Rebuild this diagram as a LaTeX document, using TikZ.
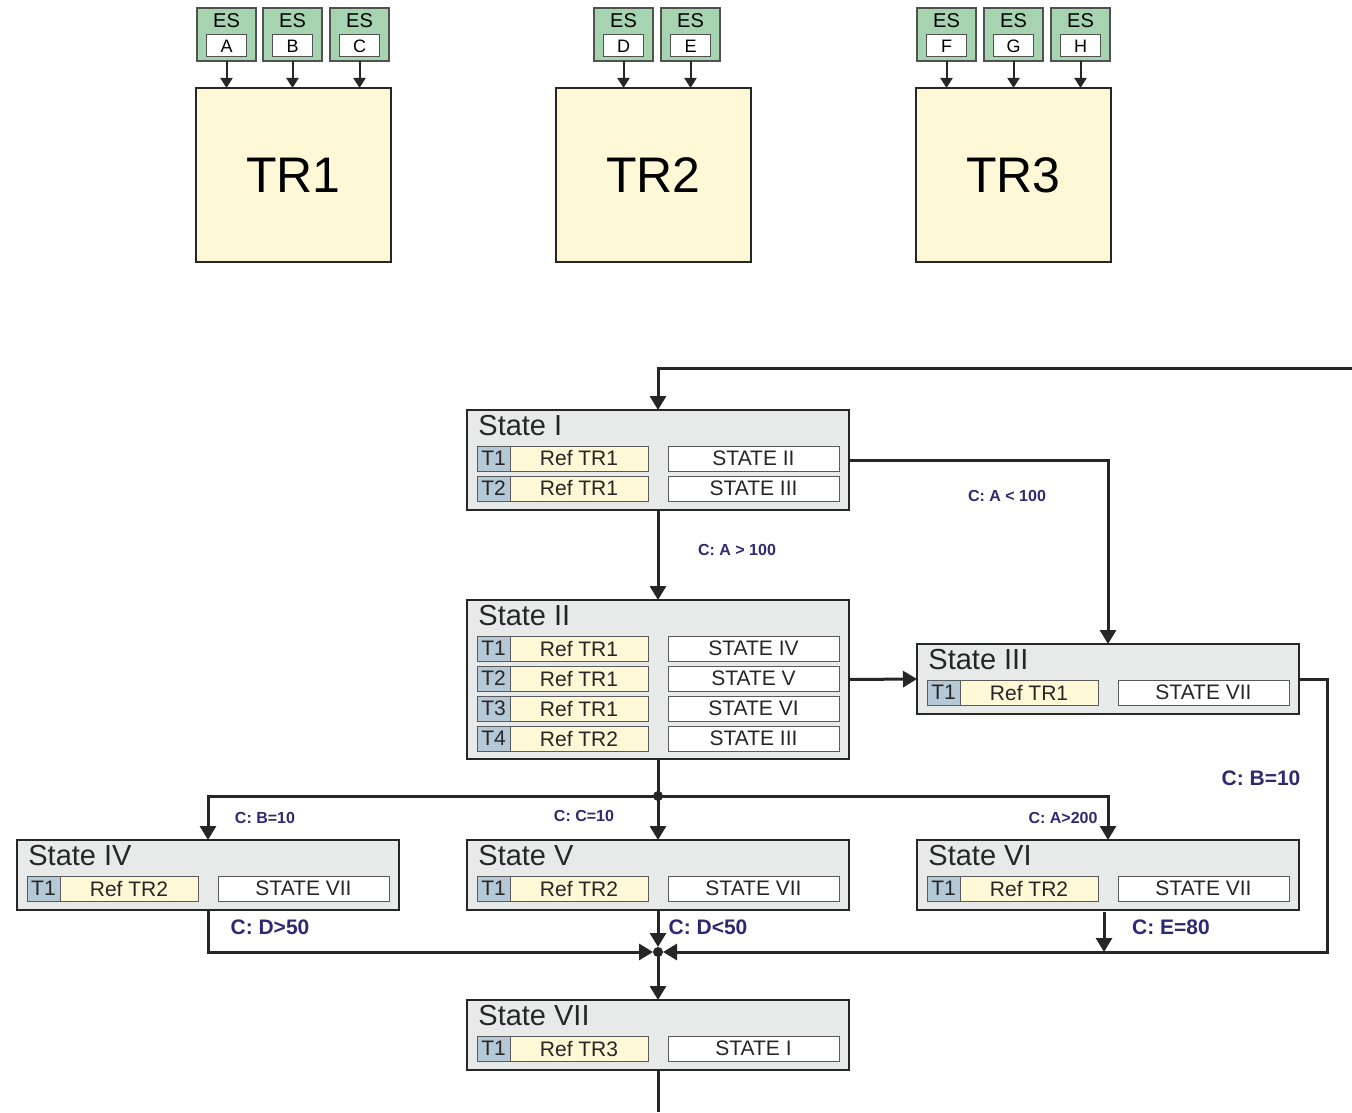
\documentclass[tikz,border=0pt]{standalone}
\usepackage{fontspec}
\setmainfont{Liberation Sans}
\usetikzlibrary{positioning,arrows.meta}
\definecolor{linecol}{HTML}{262626}
\definecolor{trfill}{HTML}{FEF8D6}
\definecolor{esfill}{HTML}{A7D4B0}
\definecolor{tfill}{HTML}{B4C8D6}
\definecolor{stategray}{HTML}{E8EAEA}
\definecolor{cellline}{HTML}{5A5A5A}
\definecolor{condcol}{HTML}{2E2A72}

\begin{document}
\begin{tikzpicture}[x=0.5pt, y=-0.5pt,
  line/.style={draw=linecol, line width=1.5pt},
  flow/.style={line, -{Triangle[width=8pt,length=7pt]}},
  esflow/.style={draw=linecol, line width=1pt, -{Triangle[width=6pt,length=5pt]}},
  trbox/.style={draw=linecol, line width=1.2pt, fill=trfill, anchor=north west,
    minimum width=97.5pt, minimum height=87pt, inner sep=0, outer sep=0,
    font=\fontsize{25}{25}\selectfont},
  esbox/.style={draw=linecol!80, line width=0.6pt, fill=esfill, anchor=north west,
    minimum width=29.5pt, minimum height=26.5pt, inner sep=0, outer sep=0},
  eshead/.style={inner sep=0, font=\fontsize{10}{10}\selectfont},
  esletter/.style={draw=linecol!80, line width=0.5pt, fill=white, minimum width=20pt,
    minimum height=11pt, inner sep=0, outer sep=0, font=\fontsize{9}{9}\selectfont},
  statebox/.style={draw=linecol, line width=1.4pt, fill=stategray, anchor=north west,
    minimum width=191pt, inner sep=0, outer sep=0},
  statetitle/.style={anchor=north west, inner sep=0, text=black!85,
    font=\fontsize{14.5}{14.5}\selectfont},
  cell/.style={draw=cellline, line width=0.5pt, minimum height=12.5pt, inner sep=0,
    outer sep=0, text=black!85, font=\fontsize{10.5}{10.5}\selectfont},
  tcell/.style={cell, fill=tfill, minimum width=16.5pt, anchor=north west},
  refcell/.style={cell, fill=trfill, minimum width=69pt},
  nextcell/.style={cell, fill=white, minimum width=85.5pt},
  cond/.style={text=condcol, inner sep=0, font=\bfseries\fontsize{8}{8}\selectfont},
  bigcond/.style={cond, font=\bfseries\fontsize{10.5}{10.5}\selectfont},
  dot/.style={circle, fill=linecol, inner sep=0, minimum size=5pt},
  tojoin/.style={flow, shorten >=2.5pt}
]
\useasboundingbox (0,0) rectangle (1352,1112);

  % Define nodes
  \node[trbox] (tr1) at (196,88) {TR1};
  \node[trbox] (tr2) at (556,88) {TR2};
  \node[trbox] (tr3) at (916,88) {TR3};

  \foreach \l/\x/\tr in {A/197/1,B/263/1,C/330/1,D/594/2,E/661/2,F/917/3,G/984/3,H/1051/3} {
    \node[esbox] (es\l) at (\x,8) {};
    \node[eshead, below=2.5pt of es\l.north] (es\l-head) {ES};
    \node[esletter, above=2pt of es\l.south] (es\l-in) {\l};
    \draw[esflow] (es\l.south) -- (es\l.south |- tr\tr.north);
  }

  \foreach \st/\x/\y/\h/\nm in {1/467/410/50pt/I, 2/467/600/79.5pt/II, 3/917/644/35pt/III,
      4/17/840/35pt/IV, 5/467/840/35pt/V, 6/917/840/35pt/VI, 7/467/1000/35pt/VII} {
    \node[statebox, minimum height=\h] (s\st) at (\x,\y) {};
    \node[statetitle] (s\st-title) at ([shift={(5.5pt,-2.5pt)}]s\st.north west) {State \nm};
  }

  \foreach \st/\i/\tn/\rf/\nx in {1/1/T1/TR1/II, 1/2/T2/TR1/III,
      2/1/T1/TR1/IV, 2/2/T2/TR1/V, 2/3/T3/TR1/VI, 2/4/T4/TR2/III,
      3/1/T1/TR1/VII, 4/1/T1/TR2/VII, 5/1/T1/TR2/VII, 6/1/T1/TR2/VII, 7/1/T1/TR3/I} {
    \node[tcell] (s\st-t\i) at ([xshift=5pt, yshift={-18pt-15pt*(\i-1)}]s\st.north west) {\tn};
    \node[refcell, right=0pt of s\st-t\i] (s\st-r\i) {Ref \rf};
    \node[nextcell, right=10pt of s\st-r\i] (s\st-n\i) {STATE \nx};
  }

  \coordinate (loopin) at (1352,368);
  \coordinate (loopout) at (658,1112);
  \coordinate (j1) at (658,796);
  \coordinate (j2) at (658,952);
  \coordinate (c3) at (1327,952);
  \coordinate (s6exit) at (1104,912);

  % Conditions
  \node[cond] (cA1) at (1007,496) {C: A < 100};
  \node[cond] (cA2) at (737,550) {C: A > 100};
  \node[cond] (cB1) at (265,818) {C: B=10};
  \node[cond] (cC1) at (584,816) {C: C=10};
  \node[cond] (cA3) at (1063,818) {C: A>200};
  \node[bigcond] (cB2) at (1261,778) {C: B=10};
  \node[bigcond] (cD1) at (270,927) {C: D>50};
  \node[bigcond] (cD2) at (708,927) {C: D<50};
  \node[bigcond] (cE1) at (1171,927) {C: E=80};

  % Connect the nodes
  \draw[flow] (loopin) -| (s1.north);
  \draw[flow] (s1.south) -- (s2.north);
  \draw[flow] (s1.east) -| (s3.north);
  \draw[flow] (s2.east) -- (s3.west);
  \draw[line] (s2.south) -- (j1);
  \draw[flow] (j1) -- (s5.north);
  \draw[flow] (j1) -| (s4.north);
  \draw[flow] (j1) -| (s6.north);
  \draw[tojoin] (s3.east) -| (c3) -- (j2);
  \draw[tojoin] (s4.south) |- (j2);
  \draw[tojoin] (s5.south) -- (j2);
  \draw[flow] (s6exit) -- (s6exit |- j2);
  \draw[flow] (j2) -- (s7.north);
  \draw[line] (s7.south) -- (loopout);
  \node[dot] (j1dot) at (j1) {};
  \node[dot] (j2dot) at (j2) {};

\end{tikzpicture}
\end{document}
